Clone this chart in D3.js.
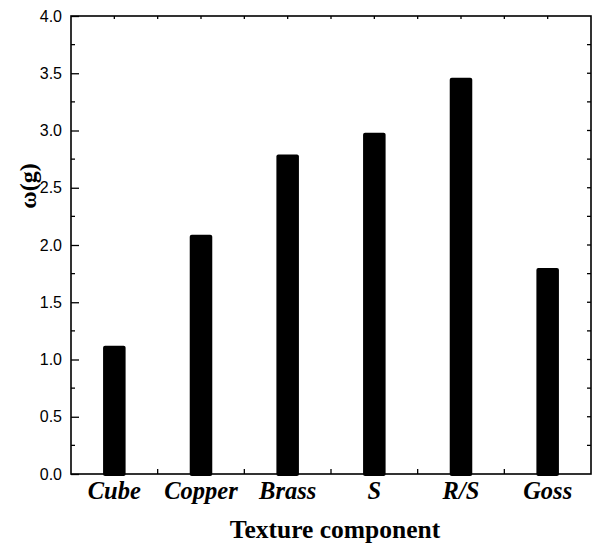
<!DOCTYPE html>
<html>
<head>
<meta charset="utf-8">
<script src="https://cdn.jsdelivr.net/npm/d3@7"></script>
<style>
  body { margin: 0; background: #fff; }
  svg { display: block; }
</style>
</head>
<body>
<script>
// data
let components = ['Cube', 'Copper', 'Brass', 'S', 'R/S', 'Goss'];
let omegaValues = [1.12, 2.09, 2.79, 2.98, 3.46, 1.80];
let yTicks = [0.0, 0.5, 1.0, 1.5, 2.0, 2.5, 3.0, 3.5, 4.0];

let width = 595, height = 546;
let margin = {top: 16, right: 4, bottom: 72, left: 71};

let svg = d3.select('body').append('svg')
    .attr('width', width)
    .attr('height', height);

let xScale = d3.scaleBand()
    .domain(components)
    .range([margin.left, width - margin.right]);
let yScale = d3.scaleLinear()
    .domain([0, 4])
    .range([height - margin.bottom, margin.top]);

let x0 = margin.left, x1 = width - margin.right;
let y0 = height - margin.bottom, y1 = margin.top;

// bars
let barWidth = xScale.bandwidth() * 0.26;
svg.selectAll('.bar')
    .data(omegaValues)
    .enter().append('rect')
    .attr('class', 'bar')
    .attr('x', (d, i) => xScale(components[i]) + xScale.bandwidth() / 2 - barWidth / 2)
    .attr('y', d => yScale(d))
    .attr('width', barWidth)
    .attr('height', d => y0 - yScale(d) + 2)
    .attr('rx', 2)
    .attr('fill', '#000');

// left axis with labels, ticks pointing inward
let minorY = d3.range(0.25, 4, 0.5);
let left = svg.append('g').attr('transform', `translate(${x0},0)`);
left.call(d3.axisRight(yScale).tickValues(yTicks).tickSize(8).tickFormat(''));
left.call(g => g.select('.domain').remove());
left.selectAll('.tick line').attr('stroke-width', 1.3);
left.selectAll('.minor').data(minorY).enter().append('line')
    .attr('x1', 0).attr('x2', 4)
    .attr('y1', d => yScale(d)).attr('y2', d => yScale(d))
    .attr('stroke', '#000').attr('stroke-width', 1.3);
left.selectAll('.lbl').data(yTicks).enter().append('text')
    .attr('x', -9)
    .attr('y', d => yScale(d))
    .attr('dy', '0.35em')
    .attr('text-anchor', 'end')
    .attr('fill', '#000')
    .attr('font-family', 'Liberation Sans, Arial, sans-serif')
    .attr('font-size', 16)
    .text(d => d.toFixed(1));

// right axis: short ticks only
let right = svg.append('g');
right.selectAll('line').data(d3.range(0.25, 4, 0.25)).enter().append('line')
    .attr('x1', x1).attr('x2', x1 - 4)
    .attr('y1', d => yScale(d)).attr('y2', d => yScale(d))
    .attr('stroke', '#000').attr('stroke-width', 1.3);

// bottom and top ticks at category boundaries / half bands
let bounds = components.slice(1).map(c => xScale(c));
svg.append('g').selectAll('line').data(bounds).enter().append('line')
    .attr('x1', d => d).attr('x2', d => d)
    .attr('y1', y0).attr('y2', y0 - 5)
    .attr('stroke', '#000').attr('stroke-width', 1.3);
let topTicks = d3.range(1, 12).map(i => x0 + i * xScale.bandwidth() / 2);
svg.append('g').selectAll('line').data(topTicks).enter().append('line')
    .attr('x1', d => d).attr('x2', d => d)
    .attr('y1', y1).attr('y2', y1 + 3)
    .attr('stroke', '#000').attr('stroke-width', 1.3);

// frame
svg.append('rect')
    .attr('x', x0).attr('y', y1)
    .attr('width', x1 - x0).attr('height', y0 - y1)
    .attr('fill', 'none')
    .attr('stroke', '#000')
    .attr('stroke-width', 1.6);

// category labels
svg.selectAll('.cat').data(components).enter().append('text')
    .attr('x', d => xScale(d) + xScale.bandwidth() / 2)
    .attr('y', y0 + 25)
    .attr('text-anchor', 'middle')
    .attr('font-family', 'Liberation Serif, Times New Roman, serif')
    .attr('font-weight', 'bold')
    .attr('font-style', 'italic')
    .attr('font-size', 24.5)
    .text(d => d);

// axis titles
svg.append('text')
    .attr('x', (x0 + x1) / 2 + 4)
    .attr('y', 538)
    .attr('text-anchor', 'middle')
    .attr('font-family', 'Liberation Serif, Times New Roman, serif')
    .attr('font-weight', 'bold')
    .attr('font-size', 25.5)
    .text('Texture component');

svg.append('text')
    .attr('transform', 'translate(36,186) rotate(-90)')
    .attr('text-anchor', 'middle')
    .attr('font-family', 'Liberation Serif, Times New Roman, serif')
    .attr('font-weight', 'bold')
    .attr('font-size', 24)
    .text('ω(g)');
</script>
</body>
</html>
